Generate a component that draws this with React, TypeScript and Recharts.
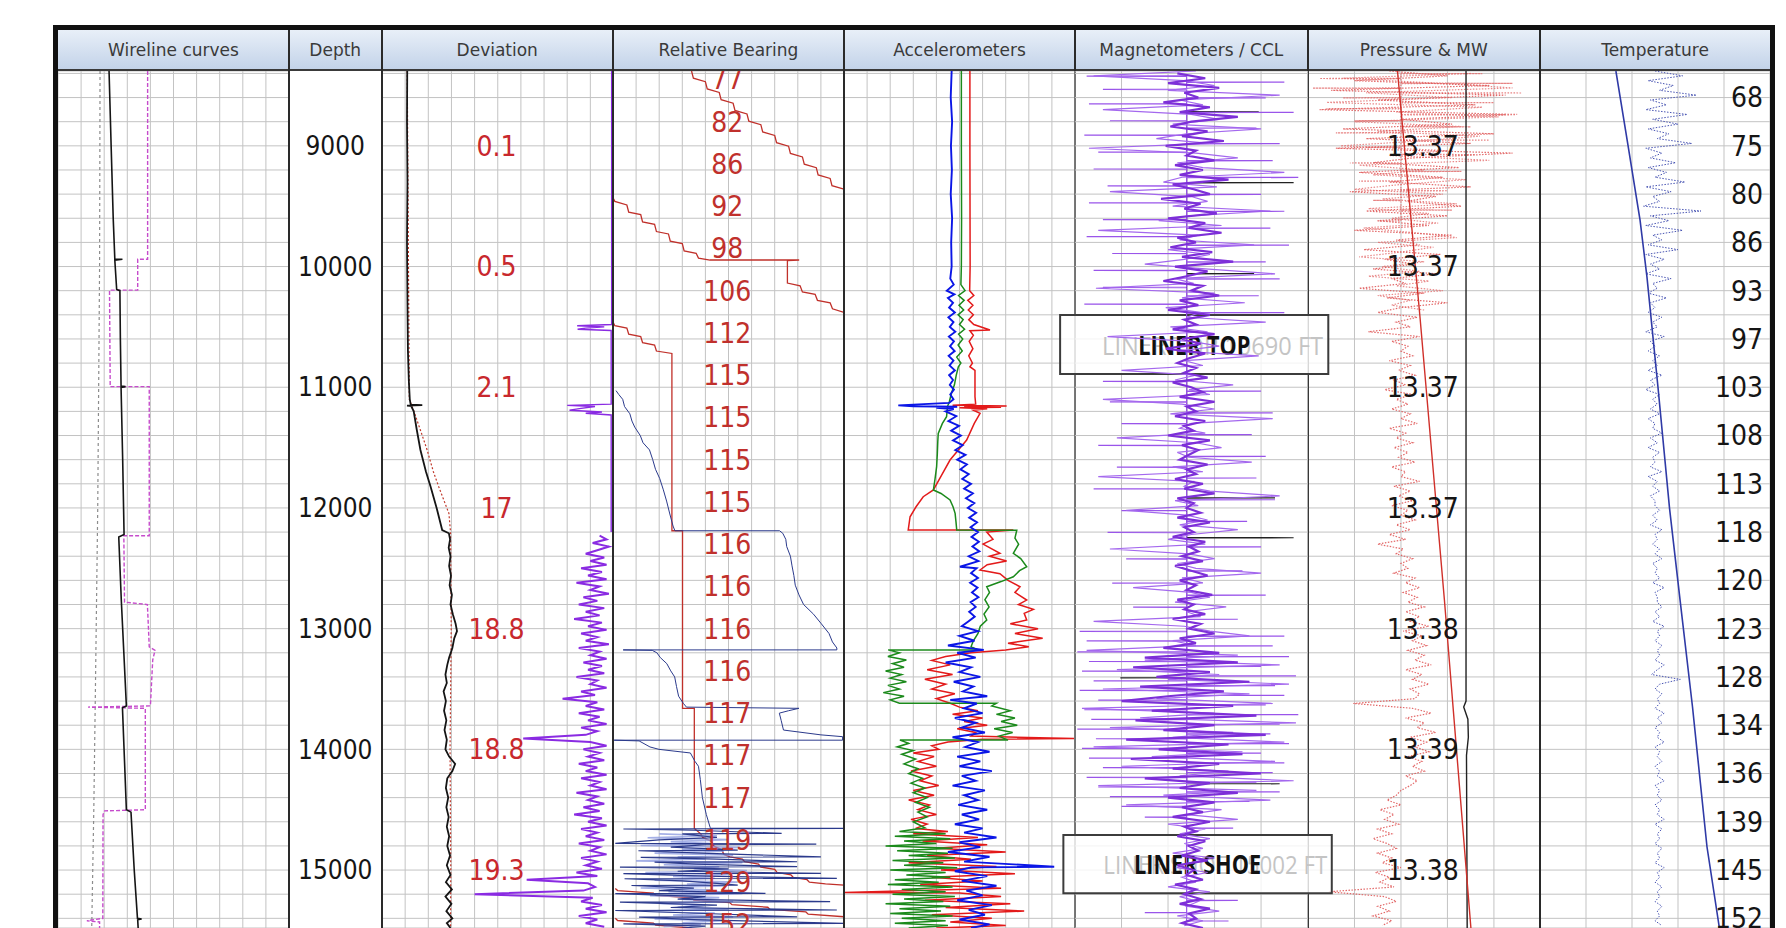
import React from 'react';
import {
  ComposedChart,
  Line,
  XAxis,
  YAxis,
  CartesianGrid,
  LabelList,
  ReferenceArea,
} from 'recharts';

// depth window shown on the page (ft)
const DEPTH_TOP = 8380;
const DEPTH_BOTTOM = 15480;

const gridDepths = [
  8400, 8600, 8800, 9000, 9200, 9400, 9600, 9800, 10000, 10200, 10400, 10600,
  10800, 11000, 11200, 11400, 11600, 11800, 12000, 12200, 12400, 12600, 12800,
  13000, 13200, 13400, 13600, 13800, 14000, 14200, 14400, 14600, 14800, 15000,
  15200, 15400,
];
const tenDivisions = [10, 20, 30, 40, 50, 60, 70, 80, 90];
const fiveDivisions = [20, 40, 60, 80];

// ---------- printed values ----------
const depthTicks = [9000, 10000, 11000, 12000, 13000, 14000, 15000];
const depthText = ['9000', '10000', '11000', '12000', '13000', '14000', '15000'];
const deviationText = ['0.1', '0.5', '2.1', '17', '18.8', '18.8', '19.3'];
const pressureText = ['13.37', '13.37', '13.37', '13.37', '13.38', '13.39', '13.38'];

const bearingDepths = [
  8450, 8800, 9150, 9500, 9850, 10200, 10550, 10900, 11250, 11600, 11950, 12300,
  12650, 13000, 13350, 13700, 14050, 14400, 14750, 15100, 15450,
];
const bearingText = [
  '77', '82', '86', '92', '98', '106', '112', '115', '115', '115', '115', '116',
  '116', '116', '116', '117', '117', '117', '119', '129', '152',
];

const tempDepths = [
  8600, 9000, 9400, 9800, 10200, 10600, 11000, 11400, 11800, 12200, 12600, 13000,
  13400, 13800, 14200, 14600, 15000, 15400,
];
const tempText = [
  '68', '75', '80', '86', '93', '97', '103', '108', '113', '118', '120', '123',
  '128', '134', '136', '139', '145', '152',
];

// ---------- wireline curves (value = % of track) ----------
const wireGray = [[8380, 18.2], [10000, 18.0], [12000, 17.2], [13500, 16.2], [14500, 15.5], [15480, 14.6]];
const wireBlack = [
  [8380, 22.1], [9000, 23.0], [9600, 23.9], [9940, 24.6], [9940, 27.9], [9948, 24.6], [10190, 25.4],
  [10200, 26.8], [10600, 27.0], [10990, 27.3], [10995, 29.2], [11002, 27.3], [11600, 28.0], [12220, 28.6],
  [12240, 26.3], [12763, 27.4], [13200, 28.5], [13640, 29.6], [13655, 27.9], [14100, 28.8], [14500, 29.6],
  [14520, 31.6], [15000, 33.0], [15400, 34.4], [15405, 36.2], [15412, 34.5], [15480, 34.7],
];
const wireMagenta = [
  [8380, 38.8], [9940, 38.8], [9940, 34.5], [10195, 34.5], [10195, 22.3], [10995, 22.6], [10995, 39.5],
  [12230, 39.5], [12230, 28.5], [12780, 28.8], [12800, 38.7], [13150, 39.5], [13180, 42], [13260, 41],
  [13640, 40], [13650, 13], [13660, 37.8], [14500, 37.8], [14510, 20.2], [14540, 19.5], [15400, 19.4],
  [15420, 12.5], [15430, 18], [15480, 18],
];

// ---------- deviation ----------
const devBlack = [
  [8380, 10.9], [8800, 10.8], [9300, 11.0], [9800, 10.8], [10300, 11.0], [10700, 11.2], [10950, 11.6],
  [11100, 12.0], [11145, 12.4], [11148, 17.4], [11152, 10.8], [11156, 12.6], [11200, 13.7], [11350, 15.0],
  [11520, 16.6], [11700, 19.0], [11824, 21.0], [12000, 23.6], [12183, 26.0], [12210, 28.9], [12260, 29.4],
  [12330, 28.8], [12400, 29.6], [12480, 29.0], [12560, 29.8], [12640, 29.2], [12720, 30.2], [12800, 29.6],
  [12880, 30.6], [12960, 31.8], [13020, 32.4], [13080, 31.2], [13160, 30.4], [13240, 29.0], [13300, 28.2],
  [13380, 27.4], [13450, 28.0], [13520, 26.6], [13600, 27.6], [13680, 26.8], [13760, 27.8], [13840, 27.0],
  [13920, 28.0], [14000, 27.4], [14060, 29.0], [14120, 31.6], [14180, 30.4], [14240, 28.2], [14320, 27.6],
  [14400, 28.6], [14480, 27.8], [14560, 28.8], [14640, 28.0], [14720, 29.0], [14800, 28.2], [14880, 29.4],
  [14960, 28.0], [15040, 29.6], [15100, 27.6], [15160, 30.2], [15220, 27.4], [15280, 30.0], [15340, 27.8],
  [15400, 30.4], [15440, 28.0], [15480, 29.6],
];
const devRed = [
  [8380, 10.9], [11100, 11.8], [11200, 13.8], [11350, 16.5], [11520, 19.5], [11700, 22.2], [11824, 24.5],
  [12045, 28.9], [12200, 29.6], [13000, 29.9], [14000, 29.4], [15000, 29.7], [15480, 29.6],
];
const devPurpleTop = [
  [8380, 99.2], [10480, 99.2], [10490, 84.3], [10500, 96], [10510, 88], [10520, 84.5], [10530, 99],
  [11140, 99], [11150, 80], [11160, 92], [11175, 86], [11190, 81], [11205, 95], [11215, 88], [11230, 99],
  [12200, 99],
];
const devPurpleStart = 12230;
const devPurpleStep = 30;
const devPurpleValues = [
  94, 97, 91, 98, 93, 88, 96, 90, 97, 86,
  95, 89, 97, 84, 94, 90, 98, 87, 93, 85,
  96, 88, 94, 83, 95, 89, 97, 86, 93, 88,
  98, 85, 94, 90, 97, 87, 95, 89, 96, 84,
  93, 90, 97, 86, 92, 78, 93, 88, 96, 85,
  94, 89, 97, 86, 93, 88, 61, 90, 97, 87,
  94, 89, 96, 85, 93, 88, 97, 86, 94, 90,
  97, 84, 93, 89, 96, 87, 94, 83, 95, 89,
  97, 86, 93, 88, 96, 85, 94, 90, 97, 86,
  93, 88, 95, 84, 93, 62.5, 89, 92, 87, 40,
  91, 86, 95, 88, 97, 85, 93, 88, 96,
];

// ---------- relative bearing ----------
const rbRed1 = [
  [8380, 34.0], [8440, 34.8], [8469, 40.0], [8529, 40.8], [8558, 46.0], [8618, 46.8], [8647, 52.0],
  [8707, 52.8], [8736, 58.0], [8796, 58.8], [8825, 64.0], [8885, 64.8], [8914, 70.0], [8974, 70.8],
  [9003, 76.0], [9063, 76.8], [9092, 82.0], [9152, 82.8], [9181, 88.0], [9241, 88.8], [9270, 94.0],
  [9330, 94.8], [9359, 100],
];
const rbRed2 = [
  [9430, 0], [9460, 0.8], [9490, 6], [9550, 6.8], [9570, 12], [9630, 12.8], [9650, 18], [9710, 18.8],
  [9730, 24], [9790, 24.8], [9810, 30], [9870, 30.8], [9890, 36], [9930, 37], [9946, 42], [9946, 80.6],
  [9950, 75.5], [10137, 75.5], [10160, 81], [10210, 82], [10230, 87.5], [10280, 88.5], [10300, 94],
  [10350, 95], [10380, 100],
];
const rbRed3 = [
  [10460, 0], [10490, 0.8], [10510, 6], [10560, 6.8], [10580, 12], [10630, 12.8], [10650, 18],
  [10700, 18.8], [10720, 25.5], [12189, 25.5], [12189, 30.1], [13660, 30.1], [13660, 35.2], [14655, 35.2],
  [14700, 38], [14730, 38.8], [14760, 42.5], [14800, 43.5], [14830, 47], [14870, 48], [14890, 50.6],
  [14910, 56], [14930, 57], [14950, 63], [14975, 64], [14995, 70], [15020, 71], [15040, 77], [15060, 78],
  [15080, 84], [15100, 85], [15115, 92], [15124, 100],
];
const rbRed4 = [
  [15152, 1], [15170, 2], [15191, 17.5], [15209, 18.5], [15230, 34], [15248, 35], [15269, 50.5],
  [15287, 51.5], [15308, 67], [15326, 68], [15347, 83.5], [15365, 84.5], [15387, 100],
];
const rbRed5 = [[15400, 1], [15418, 2], [15439, 17.5], [15457, 18.5], [15480, 34]];
const rbNavy = [
  [11028, 1.3], [11060, 2.5], [11100, 4.2], [11160, 5.0], [11220, 7.3], [11280, 8.2], [11330, 9.4],
  [11400, 11.8], [11460, 13.0], [11519, 15.8], [11600, 17.2], [11680, 18.4], [11755, 20.2], [11850, 21.8],
  [11943, 23.2], [12050, 24.6], [12150, 26.0], [12189, 26.8], [12189, 72.1], [12210, 73.5], [12260, 74.8],
  [12320, 75.2], [12400, 76.8], [12480, 77.5], [12560, 78.3], [12640, 78.9], [12720, 80.5], [12800, 82.5],
  [12880, 86.8], [12960, 90.2], [13040, 93.5], [13110, 95.0], [13160, 96.9], [13176, 96.9], [13176, 4.4],
  [13180, 17], [13200, 19.0], [13240, 20.5], [13290, 23.3], [13350, 25.0], [13400, 26.7], [13480, 27.5],
  [13560, 28.4], [13620, 30.5], [13650, 31.8], [13660, 80.5], [13680, 76], [13700, 72.0], [13760, 72.8],
  [13840, 73.8], [13880, 90], [13895, 99.4], [13924, 99.4], [13924, 0.5], [13930, 11.3], [13980, 16],
  [14000, 19.9], [14030, 33.5], [14100, 35.5], [14140, 37.0], [14250, 37.8], [14400, 38.7], [14540, 40.4],
  [14650, 42.1],
];
const rbNavyBottom = [
  [14655, 42], [14655, 100], [14660, 4.5], [14670, 35], [14696, 73], [14700, 30], [14730, 45], [14750, 20],
  [14779, 1], [14785, 88], [14790, 40], [14810, 25], [14834, 54], [14840, 11], [14860, 38], [14890, 90],
  [14895, 12], [14910, 45], [14931, 79.7], [14935, 18], [14950, 36], [14972, 79.7], [14975, 3], [14990, 50],
  [15010, 28], [15027, 90], [15030, 4.5], [15050, 40], [15069, 96.9], [15072, 5], [15090, 30], [15110, 45],
  [15124, 54], [15128, 8], [15150, 35], [15170, 20], [15193, 66], [15196, 1], [15220, 40], [15240, 28],
  [15262, 94], [15266, 3], [15290, 45], [15310, 25], [15331, 96.9], [15335, 1], [15360, 40], [15387, 79.7],
  [15390, 11.3], [15410, 35], [15442, 100], [15446, 4.5], [15465, 40], [15480, 30],
];
const rbLightStart = 14700;
const rbLightStep = 16;
const rbLightValues = [
  20, 45, 15, 50, 25, 42, 12, 55, 30, 48,
  18, 52, 28, 40, 10, 56, 22, 46, 35, 58,
  14, 50, 26, 44, 18, 54, 32, 48, 12, 42,
  24, 56, 16, 46, 30, 52, 20, 40, 28, 50,
  14, 44, 26, 52, 18, 48, 30, 38, 22,
];

// ---------- accelerometers ----------
const accelBlue = [
  [8380, 46.6], [8600, 46.2], [8800, 46.8], [9000, 46.3], [9200, 46.7], [9400, 46.2], [9600, 46.8],
  [9800, 46.4], [10000, 46.6], [10100, 46.0], [10150, 47.5], [10200, 44.5], [10230, 47.8], [10260, 45.0],
  [10300, 47.2], [10340, 45.5], [10380, 48.0], [10420, 45.2], [10460, 47.4], [10500, 45.8], [10540, 48.2],
  [10580, 45.4], [10620, 47.6], [10660, 45.9], [10700, 47.9], [10740, 45.3], [10780, 47.4], [10820, 45.7],
  [10860, 48.0], [10900, 45.5], [10940, 47.2], [10980, 45.8], [11020, 47.6], [11060, 46.0], [11100, 47.4],
  [11130, 45.5], [11150, 23.5], [11158, 30], [11162, 49], [11170, 40], [11180, 47.5], [11200, 44.0],
  [11240, 48.6], [11280, 45.2], [11320, 49.8], [11360, 46.4], [11400, 50.6], [11440, 47.2], [11480, 51.4],
  [11520, 48.2], [11560, 52.6], [11600, 49.0], [11640, 53.2], [11680, 50.4], [11720, 54.0], [11760, 51.2],
  [11800, 55.0], [11840, 52.0], [11880, 55.8], [11920, 52.8], [11960, 56.4], [12000, 53.6], [12040, 57.2],
  [12080, 54.2], [12120, 57.6], [12160, 54.8], [12200, 58.0], [12240, 55.2], [12280, 58.4], [12320, 55.6],
  [12360, 58.6], [12400, 54.0], [12440, 58.2], [12487, 50.2], [12500, 57.4], [12540, 55.0], [12580, 58.0],
  [12620, 54.6], [12660, 57.8], [12700, 55.4], [12740, 58.2], [12780, 54.8], [12820, 57.0], [12860, 54.2],
  [12900, 56.6], [12940, 53.8], [12980, 51.0], [13020, 58.0], [13060, 50.0], [13100, 56.5], [13140, 45.0],
  [13176, 60.5], [13200, 49.0], [13240, 57.0], [13280, 44.0], [13320, 55.0], [13360, 50.0], [13400, 59.0],
  [13440, 47.5], [13480, 56.0], [13520, 51.5], [13560, 62.0], [13590, 46.0], [13620, 57.5], [13660, 52.0],
  [13700, 60.0], [13740, 48.0], [13780, 57.0], [13820, 51.0], [13860, 61.0], [13900, 47.0], [13940, 58.0],
  [13980, 52.5], [14020, 63.0], [14060, 49.0], [14100, 59.0], [14140, 50.0], [14180, 64.0], [14220, 51.0],
  [14260, 57.0], [14300, 47.0], [14340, 61.0], [14380, 52.0], [14420, 58.0], [14460, 49.5], [14500, 62.0],
  [14540, 51.0], [14580, 58.5], [14620, 48.0], [14655, 60.0], [14690, 52.0], [14730, 66.0], [14770, 50.0],
  [14810, 59.0], [14850, 45.0], [14890, 63.0], [14930, 52.0], [14972, 91.0], [14978, 55.0], [15010, 48.0],
  [15050, 62.0], [15090, 51.0], [15130, 66.0], [15170, 53.0], [15210, 60.0], [15250, 49.0], [15290, 64.0],
  [15330, 54.0], [15370, 61.0], [15410, 50.0], [15450, 63.0], [15480, 55.0],
];
const accelGreen = [
  [8380, 50.8], [9000, 50.8], [9600, 50.9], [10000, 50.8], [10150, 50.6], [10200, 52.4], [10240, 49.6],
  [10280, 52.0], [10320, 49.8], [10360, 51.8], [10400, 49.4], [10440, 51.6], [10480, 50.0], [10520, 52.2],
  [10560, 49.6], [10600, 51.4], [10650, 49.4], [10700, 51.2], [10750, 48.8], [10800, 50.6], [10830, 49.5],
  [10900, 48.6], [10980, 47.8], [11050, 46.5], [11120, 45.6], [11160, 44.8], [11244, 44.4], [11300, 42.6],
  [11382, 40.8], [11450, 40.6], [11550, 40.4], [11658, 40.1], [11760, 39.4], [11851, 38.7], [11880, 42],
  [11934, 45.9], [11990, 47.2], [12045, 48.1], [12120, 48.5], [12183, 48.8], [12185, 74.8], [12250, 74.0],
  [12300, 75.6], [12376, 73.3], [12420, 76.5], [12487, 79.1], [12520, 76.0], [12570, 73.3], [12610, 68.0],
  [12653, 61.8], [12700, 63.0], [12760, 61.0], [12820, 62.8], [12880, 60.6], [12928, 61.8], [12980, 59.0],
  [13040, 58.0], [13100, 56.0], [13150, 55.0], [13176, 58], [13176, 19.1], [13200, 24], [13230, 19],
  [13260, 27], [13290, 21], [13320, 26], [13350, 18], [13380, 25], [13410, 20], [13440, 27], [13470, 19],
  [13500, 24], [13530, 17], [13560, 26], [13590, 20], [13618, 24], [13618, 66], [13640, 64], [13680, 72],
  [13710, 66], [13740, 74], [13770, 68], [13800, 75], [13830, 65], [13860, 73], [13890, 67], [13923, 71],
  [13923, 24.2], [13950, 28], [13980, 23], [14010, 30], [14040, 25], [14080, 31], [14120, 26], [14160, 32],
  [14200, 28], [14240, 34], [14280, 29], [14320, 35], [14360, 30], [14400, 36], [14440, 31], [14480, 37],
  [14520, 32], [14560, 36], [14600, 30], [14650, 35], [14680, 24], [14700, 44], [14720, 22], [14740, 46],
  [14760, 26], [14780, 40], [14800, 18], [14820, 47], [14840, 23], [14860, 45], [14880, 28], [14900, 48],
  [14920, 21], [14940, 43], [14960, 26], [14980, 49], [15000, 20], [15020, 44], [15040, 27], [15060, 46],
  [15080, 22], [15100, 41], [15120, 19], [15140, 47], [15160, 25], [15180, 44], [15200, 21], [15220, 48],
  [15240, 26], [15260, 43], [15280, 18], [15300, 46], [15320, 24], [15340, 42], [15360, 20], [15380, 47],
  [15400, 25], [15420, 44], [15440, 22], [15460, 45], [15480, 28],
];
const accelRed = [
  [8380, 54.5], [9000, 54.5], [10000, 54.6], [10200, 54.4], [10240, 56.2], [10280, 53.6], [10320, 55.8],
  [10360, 53.8], [10400, 56.0], [10440, 54.0], [10480, 56.2], [10526, 63.2], [10532, 54.5], [10570, 56.0],
  [10620, 54.2], [10680, 55.8], [10740, 54.0], [10800, 55.6], [10830, 54.5], [10860, 56.7], [11078, 56.7],
  [11140, 57], [11150, 47], [11155, 70.4], [11160, 52], [11165, 68], [11170, 50], [11178, 62], [11190, 56],
  [11216, 58.9], [11300, 56.4], [11437, 53.1], [11520, 49.5], [11603, 45.9], [11720, 42.5], [11851, 38.7],
  [11907, 34.3], [11990, 31.2], [12073, 28.6], [12183, 27.8], [12183, 73.3], [12200, 61.8], [12260, 64.5],
  [12300, 60.2], [12376, 67.5], [12400, 63], [12440, 70.4], [12470, 62], [12514, 58.9], [12545, 67.5],
  [12600, 71], [12653, 76.2], [12700, 74], [12763, 79.1], [12800, 75.5], [12840, 82], [12873, 78],
  [12928, 79.1], [12960, 72], [13000, 84], [13040, 74], [13080, 86], [13120, 71], [13150, 80], [13176, 70],
  [13200, 55], [13230, 44], [13263, 38], [13300, 46], [13340, 36], [13380, 47], [13420, 35], [13460, 44],
  [13500, 38], [13540, 48], [13580, 40], [13618, 46], [13650, 50], [13680, 58], [13710, 47], [13740, 60],
  [13770, 52], [13800, 62], [13830, 49], [13860, 57], [13890, 55], [13910, 99.6], [13916, 60], [13940, 45],
  [13970, 38], [14000, 41], [14030, 30], [14060, 39], [14100, 32], [14140, 40], [14180, 29], [14220, 38],
  [14260, 33], [14300, 41], [14340, 30], [14380, 39], [14420, 28], [14460, 37], [14500, 32], [14540, 40],
  [14580, 29], [14620, 36], [14655, 31], [14680, 45], [14700, 30], [14730, 58], [14760, 34], [14790, 62],
  [14820, 40], [14850, 70], [14880, 36], [14910, 55], [14940, 28], [14970, 66], [15000, 42], [15030, 74],
  [15060, 38], [15090, 60], [15120, 33], [15150, 68], [15185, 0], [15190, 50], [15220, 68], [15250, 35],
  [15280, 72], [15310, 44], [15340, 78], [15370, 38], [15400, 64], [15430, 46], [15460, 70], [15480, 40],
];

// ---------- magnetometers / CCL ----------
const magStart = 8380;
const magStep = 40;
const magValues = [
  52, 8, 47, 60, 40, 88, 45, 55, 12, 50,
  62, 42, 80, 48, 35, 58, 6, 52, 70, 44,
  55, 90, 46, 38, 61, 15, 50, 57, 42, 84,
  49, 36, 63, 10, 53, 45, 77, 40, 58, 47,
  30, 56, 86, 43, 51, 9, 60, 46, 73, 39,
  54, 48, 82, 41, 57, 14, 50, 62, 44, 79,
  47, 55, 20, 52, 43, 68, 49, 58, 12, 46,
  60, 41, 85, 50, 45, 56, 18, 52, 63, 44,
  49, 76, 42, 55, 10, 51, 47, 58, 88, 43,
  53, 22, 48, 57, 45, 70, 50, 40, 56, 15,
  49, 60, 44, 52, 80, 46, 55, 25, 50, 58,
  43, 65, 48, 54, 8, 47, 58, 75, 42, 52,
  5, 70, 30, 88, 18, 62, 40, 92, 12, 75,
  35, 85, 3, 60, 28, 95, 15, 68, 42, 90,
  8, 72, 33, 86, 20, 66, 45, 94, 10, 78,
  38, 84, 22, 63, 48, 70, 40, 56, 45, 58,
  47, 55, 42, 60, 49, 44, 57, 46, 52, 40,
  58, 45, 53, 48, 62, 44, 55, 47,
];
const mag2Start = 8400;
const mag2Values = [
  44, 56, 40, 62, 47, 53, 38, 58, 45, 70,
  50, 41, 57, 46, 64, 39, 52, 48, 60, 43,
  55, 45, 66, 42, 51, 58, 37, 54, 47, 61,
  40, 56, 49, 63, 44, 52, 41, 59, 46, 68,
  43, 57, 48, 38, 55, 50, 62, 45, 53, 40,
  58, 47, 52, 42, 60, 46, 54, 39, 56, 49,
  44, 52, 47, 57, 42, 50, 55, 45, 60, 48,
  52, 43, 56, 47, 51, 40, 58, 46, 53, 49,
  45, 57, 48, 52, 43, 55, 47, 60, 44, 51,
  48, 54, 44, 58, 47, 51, 42, 56, 49, 53,
  46, 55, 43, 50, 57, 45, 52, 48, 59, 44,
  51, 47, 56, 42, 54, 49, 60, 45, 52, 38,
  62, 30, 70, 25, 58, 35, 75, 28, 64, 40,
  20, 68, 33, 78, 26, 60, 38, 82, 22, 66,
  36, 72, 24, 62, 42, 80, 30, 58, 45, 70,
  40, 60, 46, 55, 42, 58, 47, 52, 44, 56,
  49, 53, 46, 57, 44, 51, 48, 55, 43, 52,
  47, 54, 45, 58, 49, 52, 46, 55,
];
// single-sample horizontal kicks off the magnetometer core
const magKicks = [
  [8420, 5], [8470, 90], [8530, 12], [8600, 82], [8650, 6], [8720, 94], [8790, 15], [8850, 78],
  [8910, 4], [8980, 88], [9050, 10], [9120, 85], [9190, 8], [9260, 96], [9330, 14], [9400, 80],
  [9470, 6], [9540, 90], [9610, 12], [9680, 84], [9750, 5], [9820, 92], [9890, 16], [9960, 82],
  [10030, 8], [10100, 88], [10170, 12], [10240, 79], [10310, 4], [10380, 90], [10950, 12], [11030, 80],
  [11120, 15], [11210, 85], [11300, 20], [11390, 76], [11480, 10], [11570, 82], [11660, 18], [11750, 78],
  [11840, 8], [11930, 86], [12020, 20], [12110, 74], [12200, 14], [12320, 80], [12420, 22], [12520, 72],
  [12620, 16], [12720, 82], [12820, 25], [12920, 70], [13020, 2], [13060, 90], [13100, 5], [13140, 85],
  [13190, 1], [13230, 92], [13270, 6], [13310, 80], [13350, 3], [13390, 95], [13430, 8], [13470, 86],
  [13510, 2], [13550, 90], [13590, 10], [13630, 82], [13670, 4], [13710, 96], [13750, 7], [13790, 88],
  [13830, 1], [13870, 84], [13910, 9], [13950, 92], [13990, 3], [14030, 80], [14070, 6], [14110, 90],
  [14150, 12], [14190, 85], [14230, 5], [14270, 78], [14310, 10], [14350, 88], [14390, 15], [14430, 75],
  [14470, 20], [14560, 30], [14650, 68], [15250, 70], [15350, 30], [15420, 66],
];
const cclKicks = [[8717, 79], [9302, 94], [10057, 77], [11915, 86], [12245, 94], [13405, 19.5], [14283, 88]];

// ---------- pressure & mud weight ----------
const pressureLine = [[8380, 38.5], [10443, 48.3], [12763, 58.7], [15480, 70.1]];
const mudWeight = [[8380, 68.0], [13600, 68.0], [13650, 67.0], [13750, 68.8], [13900, 69.0], [14050, 68.2], [15480, 68.5]];
const gaugeStart = 8380;
const gaugeStep = 40;
const gaugeValues = [
  35, 60, 20, 78, 10, 85, 30, 72, 5, 90,
  40, 62, 15, 80, 25, 70, 12, 88, 45, 28,
  65, 22, 58, 35, 70, 18, 55, 42, 66, 25,
  60, 30, 52, 20, 62, 38, 48, 24, 57, 33,
  46, 28, 55, 36, 42, 22, 50, 34, 60, 40,
  30, 47, 38, 44, 26, 48, 36, 43, 40, 45,
  35, 44, 39, 46, 37, 42, 33, 45, 38, 43,
  36, 44, 40, 47, 35, 42, 38, 45, 37, 43,
  39, 46, 36, 42, 40, 48, 37, 44, 39, 45,
  36, 43, 40, 46, 38, 44, 35, 42, 30, 41,
  38, 45, 40, 43, 37, 46, 42, 48, 41, 47,
  43, 50, 42, 48, 44, 52, 41, 49, 45, 51,
  43, 50, 46, 53, 42, 49, 45, 52, 44, 48,
  46, 19.5, 45, 53, 42, 50, 47, 55, 44, 51,
  46, 52, 43, 49, 45, 50, 42, 47, 44, 40,
  38, 34, 40, 31, 37, 33, 39, 30, 36, 28,
  34, 38, 30, 36, 32, 40, 29, 35, 31, 37,
  9, 33, 38, 30, 35, 28, 36, 32,
];
const gauge2Start = 8400;
const gauge2Values = [
  70, 15, 55, 88, 25, 62, 8, 75, 38, 82,
  20, 66, 30, 74, 48, 14, 60, 35, 78, 22,
  50, 28, 68, 40, 20, 58, 32, 64, 26, 52,
  36, 56, 24, 46, 64, 30, 54, 40, 22, 50,
  32, 48, 26, 52, 38, 58, 30, 44, 36, 50,
];
const gaugeKicks = [
  [8400, 75], [8440, 5], [8480, 88], [8520, 2], [8560, 92], [8600, 15], [8640, 80], [8690, 8],
  [8740, 85], [8790, 20], [8840, 70], [8890, 12], [8950, 78], [9010, 25], [9070, 72], [9140, 18],
  [9210, 66], [9290, 22], [9370, 60], [9450, 28], [9530, 62], [9620, 30],
];

// ---------- temperature ----------
const tempLine = [
  [8380, 33], [9000, 38.3], [9615, 43.5], [10085, 46.5], [11000, 51.3], [12000, 56.3], [12763, 60.9],
  [13647, 66.3], [14807, 72.6], [15480, 78],
];
const tempRawStart = 8380;
const tempRawStep = 40;
const tempRawValues = [
  50, 62, 47, 58, 52, 68, 48, 55, 46, 64,
  49, 60, 47, 56, 51, 66, 46, 53, 48, 59,
  47, 55, 50, 63, 46, 57, 49, 52, 45, 70,
  48, 56, 46, 62, 49, 53, 47, 60, 46, 54,
  48, 52, 46, 57, 49, 51, 47, 55, 48, 50,
  47, 53, 49, 51, 46, 54, 48, 50, 47, 52,
  49, 51, 47, 53, 48, 50, 46, 52, 49, 51,
  48, 52, 47, 50, 49, 53, 48, 51, 47, 52,
  49, 50, 48, 53, 47, 51, 49, 52, 48, 50,
  50, 52, 49, 51, 48, 53, 50, 51, 49, 52,
  50, 53, 49, 51, 50, 52, 49, 54, 50, 51,
  51, 53, 50, 52, 49, 54, 51, 52, 50, 53,
  51, 52, 50, 54, 51, 48.5, 61, 52, 50, 53,
  51, 52, 50, 54, 51, 53, 50, 52, 51, 54,
  50, 52, 51, 53, 50, 52, 51, 54, 50, 52,
  51, 53, 50, 52, 51, 54, 50, 53, 51, 52,
  50, 53, 51, 52, 50, 54, 51, 52, 50, 53,
  51, 52, 50, 53, 51, 52, 50, 53,
];

// ---------- helpers ----------
const pairs = (list: number[][]) => list.map(([d, v]) => ({ d, v }));
const sampled = (start: number, step: number, values: number[]) =>
  values.map((v, i) => ({ d: start + i * step, v }));
const printed = (depths: number[], texts: string[], v: number) =>
  depths.map((d, i) => ({ d, v, t: texts[i] }));
// each kick: leave the core, reach the reading, come back; gaps between kicks
const kicks = (list: number[][], core: number) =>
  list.flatMap(([d, v]) => [
    { d: d - 1, v: null },
    { d, v: core },
    { d: d + 2, v },
    { d: d + 4, v: core },
  ]);

const NUM_FONT = "'DejaVu Sans Condensed', 'Liberation Sans', sans-serif";
const HEAD_FONT = "'DejaVu Sans', sans-serif";

const PLOT_TOP = 71;
const PLOT_HEIGHT = 857;

const tracks = [
  { key: 'wire', title: 'Wireline curves', x0: 58, x1: 289 },
  { key: 'depth', title: 'Depth', x0: 289, x1: 381.5 },
  { key: 'dev', title: 'Deviation', x0: 381.5, x1: 613 },
  { key: 'rb', title: 'Relative Bearing', x0: 613, x1: 844 },
  { key: 'acc', title: 'Accelerometers', x0: 844, x1: 1075 },
  { key: 'mag', title: 'Magnetometers / CCL', x0: 1075, x1: 1307.6 },
  { key: 'press', title: 'Pressure & MW', x0: 1307.6, x1: 1540 },
  { key: 'temp', title: 'Temperature', x0: 1540, x1: 1770 },
];

const curve = (key: string, data: any[], stroke: string, width = 1.2, dash?: string, opacity = 1) => (
  <Line
    key={key}
    data={data}
    dataKey="v"
    type="linear"
    stroke={stroke}
    strokeWidth={width}
    strokeDasharray={dash}
    strokeOpacity={opacity}
    dot={false}
    activeDot={false}
    connectNulls={false}
    isAnimationActive={false}
  />
);

const texts = (key: string, data: any[], color: string, size: number, position: any = 'center') => (
  <Line key={key} data={data} dataKey="v" stroke="none" dot={false} activeDot={false} isAnimationActive={false}>
    <LabelList dataKey="t" position={position} offset={0} fill={color} fontSize={size} fontFamily={NUM_FONT} />
  </Line>
);

const linerLabel = (title: string, ghost: string, ghostShift: number, ghostWidth: number, titleWidth: number) =>
  (props: any) => {
    const box = props.viewBox || {};
    const cy = box.y + box.height / 2;
    return (
      <g>
        <text
          x={box.x + ghostShift}
          y={cy}
          dominantBaseline="central"
          fontSize={25}
          fontFamily="'Open Sans', sans-serif"
          fill="#c4c4c4"
          textLength={ghostWidth}
          lengthAdjust="spacingAndGlyphs"
        >
          {ghost}
        </text>
        <text
          x={box.x + box.width / 2}
          y={cy}
          textAnchor="middle"
          dominantBaseline="central"
          fontSize={26}
          fontWeight="bold"
          fontFamily="'Open Sans', sans-serif"
          fill="#111"
          textLength={titleWidth}
          lengthAdjust="spacingAndGlyphs"
        >
          {title}
        </text>
      </g>
    );
  };

function Track({ x0, x1, grid, pad = 0, z = 1, children }: any) {
  return (
    <div style={{ position: 'absolute', left: x0 - pad, top: PLOT_TOP, zIndex: z }}>
      <ComposedChart
        layout="vertical"
        width={x1 - x0 + pad * 2}
        height={PLOT_HEIGHT}
        margin={{ top: 0, right: pad, bottom: 0, left: pad }}
      >
        <XAxis type="number" dataKey="v" domain={[0, 100]} ticks={grid || [50]} interval={0} allowDataOverflow hide />
        <YAxis
          type="number"
          dataKey="d"
          domain={[DEPTH_TOP, DEPTH_BOTTOM]}
          ticks={gridDepths}
          interval={0}
          allowDataOverflow
          hide
        />
        {grid && <CartesianGrid stroke="#c3c3c3" strokeWidth={1} />}
        {children}
      </ComposedChart>
    </div>
  );
}

export default function App() {
  const t = tracks;
  return (
    <div
      style={{
        position: 'absolute',
        left: 0,
        top: 0,
        width: 1786,
        height: 928,
        overflow: 'hidden',
        background: '#fff',
      }}
    >
      {/* outer frame */}
      <div
        style={{
          position: 'absolute',
          left: 53,
          top: 25,
          width: 1722,
          height: 1000,
          border: '5px solid #111',
          boxSizing: 'border-box',
        }}
      />

      {/* header row */}
      {t.map((c) => (
        <div
          key={'h-' + c.key}
          style={{
            position: 'absolute',
            left: c.x0,
            top: 30,
            width: c.x1 - c.x0,
            height: 39,
            borderBottom: '2px solid #3a3a3a',
            background: 'linear-gradient(#e8eff8, #c3d3e9)',
            display: 'flex',
            alignItems: 'center',
            justifyContent: 'center',
            fontFamily: HEAD_FONT,
            fontSize: 17,
            color: '#3a3a3a',
            zIndex: 5,
          }}
        >
          {c.title}
        </div>
      ))}

      <Track x0={t[0].x0} x1={t[0].x1} grid={tenDivisions}>
        {curve('wg', pairs(wireGray), '#8c8c8c', 1.2, '3 3')}
        {curve('wm', pairs(wireMagenta), '#c64ccc', 1.4, '4 2')}
        {curve('wb', pairs(wireBlack), '#151515', 1.6)}
      </Track>

      <Track x0={t[1].x0} x1={t[1].x1}>
        {texts('dt', printed(depthTicks, depthText, 50), '#151515', 26)}
      </Track>

      <Track x0={t[2].x0} x1={t[2].x1} grid={tenDivisions}>
        {curve('dpt', pairs(devPurpleTop), '#8a2be2', 1.4)}
        {curve('dpb', sampled(devPurpleStart, devPurpleStep, devPurpleValues), '#8a2be2', 2)}
        {curve('dr', pairs(devRed), '#c0392b', 1.2, '2 2')}
        {curve('db', pairs(devBlack), '#151515', 1.8)}
        {texts('dl', printed(depthTicks, deviationText, 49.5), '#c8282d', 28)}
      </Track>

      <Track x0={t[3].x0} x1={t[3].x1} grid={tenDivisions}>
        {curve('r1', pairs(rbRed1), '#c0302a', 1.3)}
        {curve('r2', pairs(rbRed2), '#c0302a', 1.3)}
        {curve('r3', pairs(rbRed3), '#c0302a', 1.3)}
        {curve('r4', pairs(rbRed4), '#c0302a', 1.3)}
        {curve('r5', pairs(rbRed5), '#c0302a', 1.3)}
        {curve('rn', pairs(rbNavy), '#2b3a8c', 1)}
        {curve('rl', sampled(rbLightStart, rbLightStep, rbLightValues), '#8e9ce0', 1.6, undefined, 0.8)}
        {curve('rnb', pairs(rbNavyBottom), '#2b3a8c', 1.2)}
        {texts('rt', printed(bearingDepths, bearingText, 49.5), '#c0302c', 28)}
      </Track>

      <Track x0={t[4].x0} x1={t[4].x1} grid={tenDivisions}>
        {curve('ar', pairs(accelRed), '#e31a1a', 1.5)}
        {curve('ag', pairs(accelGreen), '#1b8a1b', 1.5)}
        {curve('ab', pairs(accelBlue), '#0b16e6', 1.9)}
      </Track>

      <Track x0={t[5].x0} x1={t[5].x1} grid={fiveDivisions} pad={30} z={7}>
        {curve('cc', kicks(cclKicks, 48), '#222', 1.2)}
        {curve('mk', kicks(magKicks, 48), '#9a55ea', 1.2)}
        {curve('m1', sampled(magStart, magStep, magValues), '#a468ee', 1.2)}
        {curve('m2', sampled(mag2Start, magStep, mag2Values), '#7d2fd8', 2.2)}
        <ReferenceArea
          x1={-6.4}
          x2={108.9}
          y1={10402}
          y2={10891}
          ifOverflow="visible"
          fill="#ffffff"
          fillOpacity={0.8}
          stroke="#3c3c3c"
          strokeWidth={2}
          label={linerLabel('LINER TOP', 'LINER TOP 10690 FT', 42, 221, 112)}
        />
        <ReferenceArea
          x1={-5}
          x2={110.4}
          y1={14709}
          y2={15193}
          ifOverflow="visible"
          fill="#ffffff"
          fillOpacity={0.8}
          stroke="#3c3c3c"
          strokeWidth={2}
          label={linerLabel('LINER SHOE', 'LINER SHOE 15002 FT', 40, 224, 127)}
        />
      </Track>

      <Track x0={t[6].x0} x1={t[6].x1} grid={fiveDivisions}>
        {curve('gk', kicks(gaugeKicks, 40), '#e36d6d', 1.2, '1.5 1.5', 0.85)}
        {curve('g2', sampled(gauge2Start, gaugeStep, gauge2Values), '#e36d6d', 1.2, '1.5 1.5', 0.8)}
        {curve('g1', sampled(gaugeStart, gaugeStep, gaugeValues), '#e05a5a', 1.2, '1.5 1.5', 0.9)}
        {curve('mw', pairs(mudWeight), '#222', 1.4)}
        {curve('pl', pairs(pressureLine), '#d0302a', 1.4)}
        {texts('pt', printed(depthTicks, pressureText, 49.4), '#151515', 28)}
      </Track>

      <Track x0={t[7].x0} x1={t[7].x1} grid={fiveDivisions}>
        {curve('tr', sampled(tempRawStart, tempRawStep, tempRawValues), '#4a56b4', 1, '1.5 1.5')}
        {curve('tl', pairs(tempLine), '#2f3aa6', 1.6)}
        {texts('tt', printed(tempDepths, tempText, 97), '#151515', 28, 'left')}
      </Track>

      {/* track separators */}
      {t.slice(0, -1).map((c) => (
        <div
          key={'s-' + c.key}
          style={{
            position: 'absolute',
            left: c.x1 - 1,
            top: 30,
            width: 2,
            height: 900,
            background: '#2a2a2a',
            zIndex: 6,
          }}
        />
      ))}
    </div>
  );
}
